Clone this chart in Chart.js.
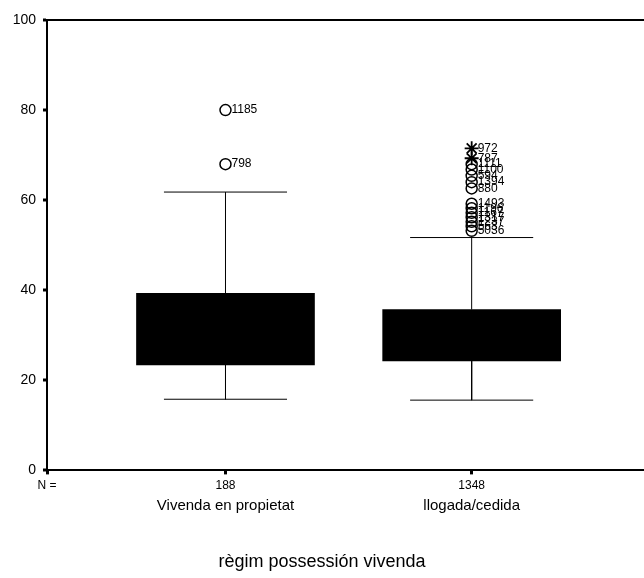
<!DOCTYPE html>
<html>
<head>
<meta charset="utf-8">
<script src="https://cdn.jsdelivr.net/npm/chart.js@4/dist/chart.umd.min.js"></script>
<style>
html,body{margin:0;padding:0;background:#fff;}
canvas{display:block;}
</style>
</head>
<body>
<canvas id="c" width="644" height="578"></canvas>
<script>
// ---- data ----
const categories = ['Vivenda en propietat', 'llogada/cedida'];
const nLabels = ['188', '1348'];
const positions = [1, 2];
const q1 = [23.4, 24.3];
const q3 = [39.3, 35.7];
const whiskerLow = [15.8, 15.6];
const whiskerHigh = [61.8, 51.7];
// outliers (circles) per group
const outlier1Values = [80.0, 68.0];
const outlier1Ids = ['1185', '798'];
const outlier2Values = [68.0, 66.8, 65.4, 64.0, 62.6, 59.2, 58.2, 57.2, 56.2, 55.2, 54.2, 53.2];
const outlier2Ids = ['1111', '1100', '594', '1394', '880', '1493', '1196', '1167', '1317', '1237', '563', '5036'];
// extremes (stars)
const extreme2Values = [71.5, 69.3];
const extreme2Ids = ['972', '787'];
const yTicks = [0, 20, 40, 60, 80, 100];
const xMin = 0.275, xMax = 2.70;
const capHalf = 0.25;

// ---- build datasets ----
const boxData = positions.map((p, i) => ({x: p, y: [q1[i], q3[i]]}));
function whiskerPoints(i) {
  const p = positions[i];
  return [
    {x: p, y: q3[i]}, {x: p, y: whiskerHigh[i]}, {x: p, y: null},
    {x: p - capHalf, y: whiskerHigh[i]}, {x: p + capHalf, y: whiskerHigh[i]}, {x: p, y: null},
    {x: p, y: q1[i]}, {x: p, y: whiskerLow[i]}, {x: p, y: null},
    {x: p - capHalf, y: whiskerLow[i]}, {x: p + capHalf, y: whiskerLow[i]}
  ];
}
const circleData = outlier1Values.map((v, i) => ({x: positions[0], y: v, id: outlier1Ids[i]}))
  .concat(outlier2Values.map((v, i) => ({x: positions[1], y: v, id: outlier2Ids[i]})));
const starData = extreme2Values.map((v, i) => ({x: positions[1], y: v, id: extreme2Ids[i]}));

const labelPlugin = {
  id: 'outlierLabels',
  afterDatasetsDraw(chart) {
    const ctx = chart.ctx;
    ctx.save();
    ctx.fillStyle = '#000';
    ctx.font = '12px "Liberation Sans", Arial, sans-serif';
    ctx.textAlign = 'left';
    ctx.textBaseline = 'middle';
    [3, 4].forEach(di => {
      const meta = chart.getDatasetMeta(di);
      meta.data.forEach((el, k) => {
        const d = chart.data.datasets[di].data[k];
        ctx.fillText(d.id, el.x + 6, el.y);
      });
    });
    ctx.restore();
  }
};

Chart.defaults.font.family = '"Liberation Sans", Arial, sans-serif';
Chart.defaults.color = '#000';

new Chart(document.getElementById('c'), {
  type: 'bar',
  data: {
    datasets: [
      {type: 'bar', data: boxData, backgroundColor: '#000', borderWidth: 0, barThickness: 178, order: 5},
      {type: 'line', data: whiskerPoints(0), borderColor: '#000', borderWidth: 1, pointRadius: 0, spanGaps: false, order: 4},
      {type: 'line', data: whiskerPoints(1), borderColor: '#000', borderWidth: 1, pointRadius: 0, spanGaps: false, order: 4},
      {type: 'scatter', data: circleData, pointStyle: 'circle', pointRadius: 5.5, borderColor: '#000', backgroundColor: 'rgba(0,0,0,0)', borderWidth: 1.5, order: 1},
      {type: 'scatter', data: starData, pointStyle: 'star', pointRadius: 7, borderColor: '#000', borderWidth: 1.8, order: 1}
    ]
  },
  options: {
    responsive: false,
    animation: false,
    devicePixelRatio: 1,
    layout: {autoPadding: false, padding: {top: 20, right: 0, bottom: 0, left: 0}},
    plugins: {
      legend: {display: false},
      tooltip: {enabled: false},
      title: {
        display: true, position: 'bottom', text: 'règim possessión vivenda',
        font: {size: 18, weight: 'normal'}, color: '#000', padding: {top: 0, bottom: 5}
      }
    },
    scales: {
      x: {
        type: 'linear', min: xMin, max: xMax, offset: false, position: 'bottom',
        afterBuildTicks: s => { s.ticks = [{value: xMin}].concat(positions.map(p => ({value: p}))); },
        afterFit: s => { s.height = 22; s.paddingLeft = 0; s.paddingRight = 0; },
        ticks: {
          autoSkip: false, maxRotation: 0, padding: 4,
          font: {size: 12}, color: '#000',
          callback: v => {
            const i = positions.indexOf(v);
            return i >= 0 ? nLabels[i] : 'N =';
          }
        },
        grid: {display: true, offset: false, drawOnChartArea: false, tickLength: 4, tickWidth: 3, tickColor: '#000'},
        border: {display: true, color: '#000', width: 2}
      },
      x2: {
        type: 'linear', min: xMin, max: xMax, offset: false, position: 'bottom',
        afterBuildTicks: s => { s.ticks = positions.map(p => ({value: p})); },
        afterFit: s => { s.height = 59; s.paddingLeft = 0; s.paddingRight = 0; },
        ticks: {
          autoSkip: false, maxRotation: 0, padding: 4,
          font: {size: 15}, color: '#000',
          callback: v => {
            const i = positions.indexOf(v);
            return i >= 0 ? categories[i] : '';
          }
        },
        grid: {display: false, offset: false, drawOnChartArea: false, drawTicks: false},
        border: {display: false}
      },
      y: {
        type: 'linear', min: 0, max: 100,
        afterBuildTicks: s => { s.ticks = yTicks.map(v => ({value: v})); },
        afterFit: s => { s.width = 47; },
        ticks: {font: {size: 14}, color: '#000', padding: 7},
        grid: {
          display: true, drawOnChartArea: true, tickLength: 4, tickWidth: 3, tickColor: '#000',
          color: c => (c.tick && c.tick.value === 100) ? '#000' : 'rgba(0,0,0,0)',
          lineWidth: c => (c.tick && c.tick.value === 100) ? 2 : 0
        },
        border: {display: true, color: '#000', width: 2}
      }
    }
  },
  plugins: [labelPlugin]
});
</script>
</body>
</html>
